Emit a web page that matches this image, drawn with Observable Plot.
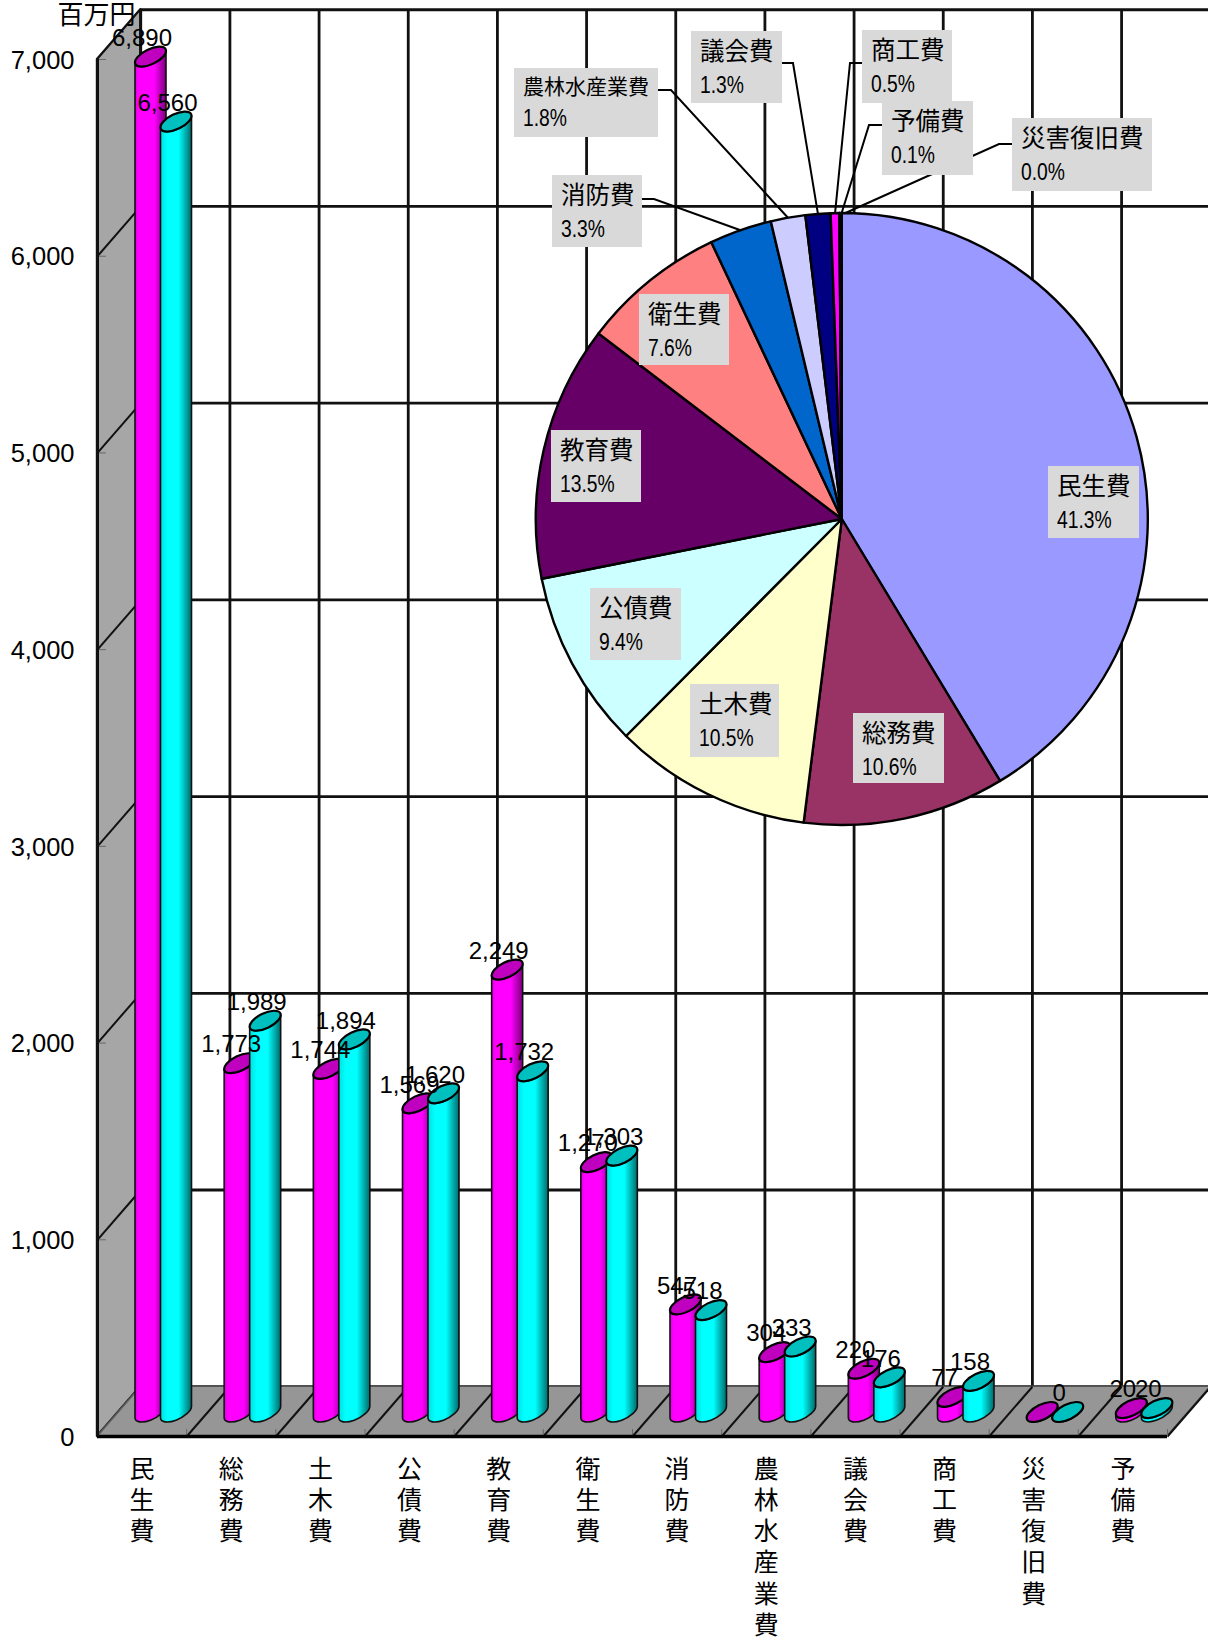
<!DOCTYPE html>
<html lang="ja">
<head>
<meta charset="utf-8">
<style>html,body{margin:0;padding:0;background:#fff}svg{display:block}</style>
<script src="https://cdn.jsdelivr.net/npm/d3@7"></script>
<script src="https://cdn.jsdelivr.net/npm/@observablehq/plot@0.6"></script>
</head>
<body>
<div id="chart"></div>
<script>
// ---- data ----
const categories = ["民生費","総務費","土木費","公債費","教育費","衛生費","消防費","農林水産業費","議会費","商工費","災害復旧費","予備費"];
const seriesA = [6890,1773,1744,1569,2249,1270,547,304,220,77,0,20];
const seriesB = [6560,1989,1894,1620,1732,1303,518,333,176,158,0,20];
const valueTicks = [0,1000,2000,3000,4000,5000,6000,7000];
const unitLabel = "百万円";
const pieColors = ["#9999ff","#993366","#ffffcc","#ccffff","#660066","#ff8080","#0066cc","#ccccff","#000080","#ff00ff","#ffff00","#00ffff"];

// ---- layout (pixels / depth, not data) ----
const W = 1208, H = 1638;
const depthX = 0.485, depthY = 253;          // oblique depth, in scale units
const midY = 122;                            // cylinders stand mid-depth on the floor
const barW = 0.3476, barA = 0.60, barB = 0.886; // cylinder centres inside a category
const pieC = [841.8, 519], pieR = 306;
// label box [x0,y0,x1,y1] and, for outside labels, the leader's start and elbow
const pieLabels = [
  {box:[1048,466,1139,538]},
  {box:[853,713,944,783]},
  {box:[690,684,779,757]},
  {box:[590,588,681,660]},
  {box:[551,430,641,502]},
  {box:[639,294,729,365]},
  {box:[552,175,642,247], lead:[[642,199],[654,199]]},
  {box:[514,68,658,137], small:true, lead:[[658,90],[671,90]]},
  {box:[691,31,782,103], lead:[[782,63],[793,63]]},
  {box:[862,30,952,103], lead:[[862,63],[850,63]]},
  {box:[1012,118,1152,191], lead:[[1012,144],[999,144]], endDx:6},
  {box:[882,101,973,175], lead:[[882,125],[869,125]], endDx:1}
];
const CJK = '"Noto Sans CJK JP","Noto Sans",sans-serif';
const NUM = '"Liberation Sans",Arial,sans-serif';

const idx = d3.range(categories.length);
const bounds = d3.range(categories.length + 1);
const barsA = idx.map(i => ({x1:i+barA-barW/2, x2:i+barA+barW/2, y1:midY, y2:seriesA[i]+midY}));
const barsB = idx.map(i => ({x1:i+barB-barW/2, x2:i+barB+barW/2, y1:midY, y2:seriesB[i]+midY}));
const ns = "http://www.w3.org/2000/svg";

function cylinderRender(gradId, gradStops, capFill) {
  return (index, scales, v, dims, ctx) => {
    const g = d3.select(ctx.document.createElementNS(ns, "g"));
    const grad = g.append("defs").append("linearGradient").attr("id", gradId);
    gradStops.forEach(([o,c]) => grad.append("stop").attr("offset", o).attr("stop-color", c));
    for (const i of index) {
      const xl = v.x1[i], xr = v.x2[i], yb = v.y1[i], yt = v.y2[i];
      const cx = (xl + xr) / 2, w = (xr - xl) / 2;
      const h = w * 0.645, phi = -26, s = Math.sin(phi*Math.PI/180), c = Math.cos(phi*Math.PI/180);
      const a2 = ((w*w + h*h) + (w*w - h*h) / (c*c - s*s)) / 2;
      const b2 = w*w + h*h - a2;
      const a = Math.sqrt(a2), b = Math.sqrt(b2);
      const off = -(a2 - b2) * s * c / w;
      const arc = (sweep, x, y) => `A${a},${b} ${phi} 0 ${sweep} ${x},${y}`;
      g.append("path")
        .attr("d", `M${cx-w},${yt+off}L${cx-w},${yb+off}${arc(0,cx+w,yb-off)}L${cx+w},${yt-off}${arc(1,cx-w,yt+off)}Z`)
        .attr("fill", `url(#${gradId})`).attr("stroke", "#111").attr("stroke-width", 1.6);
      g.append("ellipse").attr("rx", a).attr("ry", b)
        .attr("transform", `translate(${cx},${yt}) rotate(${phi})`)
        .attr("fill", capFill).attr("stroke", "#000").attr("stroke-width", 2.2);
    }
    return g.node();
  };
}

function pieMark(index, scales, values, dims, ctx) {
  const g = d3.select(ctx.document.createElementNS(ns, "g")).attr("text-anchor", "start");
  const total = d3.sum(seriesA);
  const arcs = d3.pie().sort(null)(seriesA);
  const arc = d3.arc().innerRadius(0).outerRadius(pieR);
  const pg = g.append("g").attr("transform", `translate(${pieC})`);
  pg.selectAll("path").data(arcs).join("path")
    .attr("d", arc)
    .attr("fill", (d,i) => pieColors[i])
    .attr("stroke", "#000").attr("stroke-width", 2.4).attr("stroke-linejoin", "round");
  // leaders
  idx.forEach(i => {
    const L = pieLabels[i];
    if (!L.lead) return;
    const m = (arcs[i].startAngle + arcs[i].endAngle) / 2;
    const end = [pieC[0] + pieR*Math.sin(m) + (L.endDx||0), pieC[1] - pieR*Math.cos(m)];
    g.append("path").attr("d", d3.line()([...L.lead, end]))
      .attr("fill","none").attr("stroke","#000").attr("stroke-width",2);
  });
  // labels
  idx.forEach(i => {
    const L = pieLabels[i], [x0,y0,x1,y1] = L.box;
    g.append("rect").attr("x",x0).attr("y",y0).attr("width",x1-x0).attr("height",y1-y0).attr("fill","#d9d9d9");
    g.append("text").attr("x",x0+9).attr("y",y0+(L.small?26:29))
      .attr("font-family",CJK).attr("font-size",L.small?21:24.5).attr("fill","#000").text(categories[i]);
    g.append("text").attr("transform",`translate(${x0+9},${y0+(L.small?58:61.5)}) scale(.84,1)`)
      .attr("font-family",NUM).attr("font-size",23).attr("fill","#000")
      .text((seriesA[i]/total*100).toFixed(1)+"%");
  });
  return g.node();
}

const valueLabel = d => d.v.toLocaleString("en-US");
const labelsA = idx.filter(i => seriesA[i] > 0).map(i => ({x:i+barA, y:seriesA[i]+midY, v:seriesA[i]}));
const labelsB = idx.map(i => ({x:i+barB, y:seriesB[i]+midY, v:seriesB[i]}));

const chart = Plot.plot({
  width: W, height: H,
  marginLeft: 97, marginRight: 41, marginTop: 59, marginBottom: 202,
  style: {background:"#fff", overflow:"hidden"},
  x: {domain:[0,12], axis:null},
  y: {domain:[0,7000], axis:null},
  marks: [
    // back wall grid
    Plot.ruleY(valueTicks, {y:d=>d+depthY, x1:depthX, x2:12+depthX, stroke:"#111", strokeWidth:2.8}),
    Plot.ruleX(bounds, {x:d=>d+depthX, y1:depthY, y2:7000+depthY, stroke:"#111", strokeWidth:2.8}),
    // side wall and floor
    Plot.area([0,1], {x1:d=>d*depthX, y1:d=>d*depthY, x2:d=>d*depthX, y2:d=>7000+d*depthY, fill:"#a6a6a6", stroke:"#111", strokeWidth:2.4}),
    Plot.area([0,1], {x1:d=>d*depthX, y1:d=>d*depthY, x2:d=>12+d*depthX, y2:d=>d*depthY, fill:"#969696", stroke:"#555", strokeWidth:1.5}),
    Plot.link(valueTicks.slice(1,-1), {x1:0, y1:d=>d, x2:depthX, y2:d=>d+depthY, stroke:"#111", strokeWidth:2}),
    Plot.link(bounds.slice(1), {x1:d=>d, y1:0, x2:d=>d+depthX, y2:depthY, stroke:"#111", strokeWidth:2}),
    Plot.link([0], {x1:0, y1:0, x2:depthX, y2:depthY, stroke:"#666", strokeWidth:1}),
    Plot.ruleY(valueTicks, {x1:0, x2:0.1, stroke:"#666", strokeWidth:1}),
    Plot.ruleX(bounds.slice(1), {y1:0, y2:35, stroke:"#666", strokeWidth:1}),
    // front edges
    Plot.ruleY([0], {x1:0, x2:12, stroke:"#000", strokeWidth:3.4}),
    Plot.ruleX([0], {y1:0, y2:7000, stroke:"#111", strokeWidth:3}),
    // cylinders
    Plot.rect(barsA, {x1:"x1", x2:"x2", y1:"y1", y2:"y2", render:cylinderRender("gradA",
      [["0%","#e000e0"],["12%","#ff00ff"],["62%","#ff00ff"],["100%","#7a007a"]], "#bf00bf")}),
    Plot.rect(barsB, {x1:"x1", x2:"x2", y1:"y1", y2:"y2", render:cylinderRender("gradB",
      [["0%","#00e0e0"],["22%","#00ffff"],["58%","#00ffff"],["100%","#006a6a"]], "#00bfbf")}),
    // value labels
    Plot.text(labelsA, {x:"x", y:"y", text:valueLabel, dx:-9, dy:-19, fontSize:24, fontFamily:NUM, fill:"#000"}),
    Plot.text(labelsB, {x:"x", y:"y", text:valueLabel, dx:-9, dy:-19, fontSize:24, fontFamily:NUM, fill:"#000"}),
    // value axis, category axis, unit
    Plot.axisY(valueTicks, {tickSize:0, tickPadding:23, tickFormat:d=>d.toLocaleString("en-US"), label:null, dy:1, fontSize:25.5, fontFamily:NUM, fill:"#000"}),
    Plot.text(idx, {x:d=>d+0.5, y:0, text:d=>[...categories[d]].join("\n"), dy:19, lineAnchor:"top", lineHeight:1.25, fontSize:25, fontFamily:CJK, fill:"#000"}),
    Plot.text([unitLabel], {x:0, y:7000, text:d=>d, dx:-1, dy:-44, fontSize:26, fontFamily:CJK, fill:"#000"}),
    // inset pie
    pieMark
  ]
});
document.getElementById("chart").append(chart);
</script>
</body>
</html>
